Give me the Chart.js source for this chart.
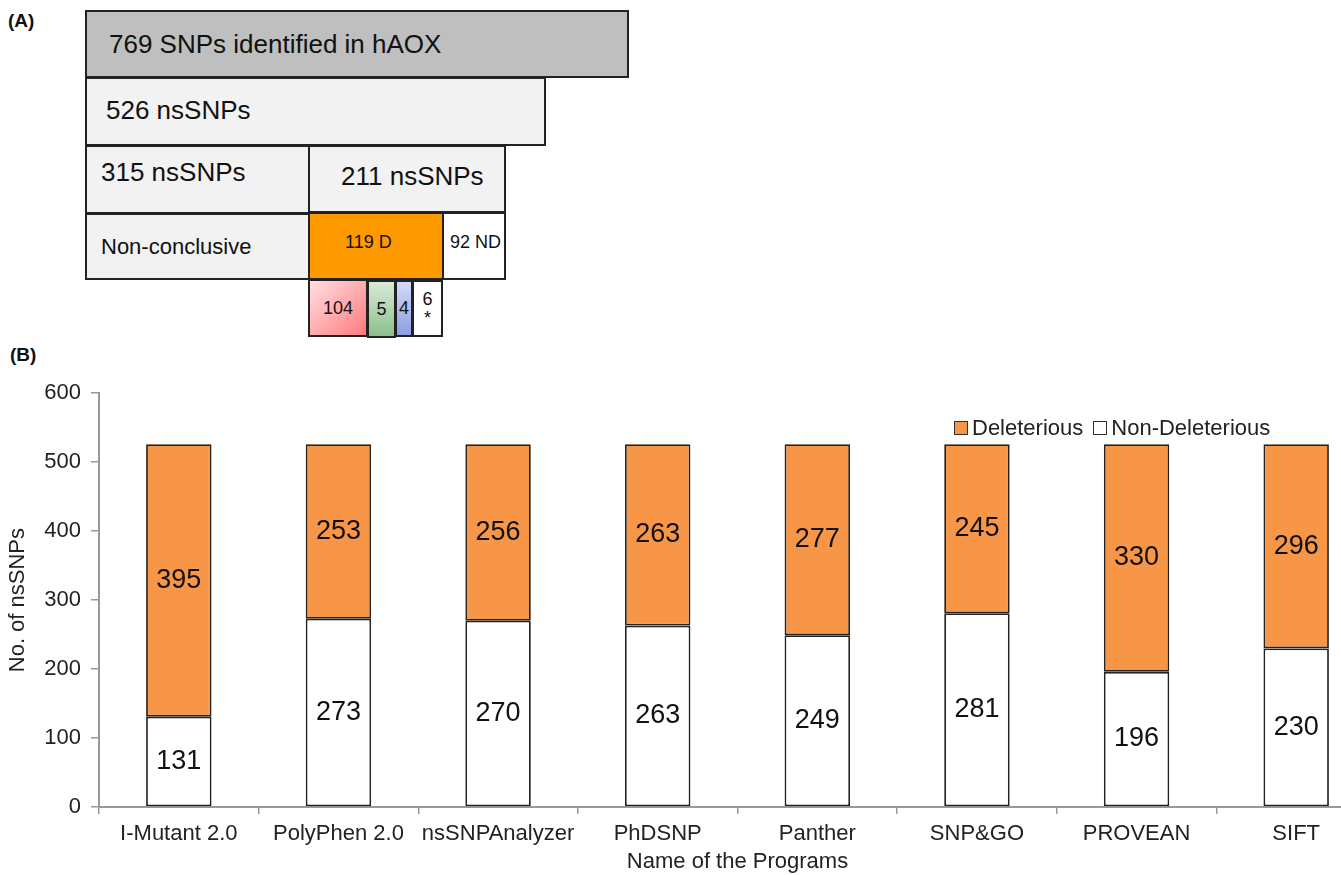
<!DOCTYPE html>
<html>
<head>
<meta charset="utf-8">
<script src="https://cdn.jsdelivr.net/npm/chart.js@4.4.0/dist/chart.umd.min.js"></script>
<style>
  html, body { margin: 0; padding: 0; background: #fff; overflow: hidden; }
  body { width: 1341px; height: 875px; position: relative; font-family: "Liberation Sans", Arial, sans-serif; color: #111; }
  .panel-tag { position: absolute; font-weight: bold; font-size: 19px; }
  .box { position: absolute; box-sizing: border-box; border: 2px solid #222; display: flex; align-items: center; white-space: nowrap; }
  #chartWrap { position: absolute; left: 0; top: 370px; width: 1380px; height: 505px; }
  #legend { position: absolute; top: 415px; left: 954px; font-size: 22px; display: flex; align-items: center; color: #222; }
  #legend .sw { display: inline-block; width: 12px; height: 12px; border: 1px solid #333; margin-right: 4px; }
</style>
</head>
<body>
<div class="panel-tag" style="left:8px;top:10px;">(A)</div>
<div class="panel-tag" style="left:10px;top:344px;">(B)</div>
<div id="flow"></div>
<div id="chartWrap"><canvas id="barChart"></canvas></div>
<div id="legend">
  <span class="sw" style="background:#F79646"></span><span>Deleterious</span>
  <span class="sw" style="background:#fff;margin-left:10px"></span><span>Non-Deleterious</span>
</div>

<script>
// --- DATA: panel (B) ---
const programs = ["I-Mutant 2.0", "PolyPhen 2.0", "nsSNPAnalyzer", "PhDSNP", "Panther", "SNP&GO", "PROVEAN", "SIFT"];
const nonDeleterious = [131, 273, 270, 263, 249, 281, 196, 230];
const deleterious = [395, 253, 256, 263, 277, 245, 330, 296];
const yTicks = [0, 100, 200, 300, 400, 500, 600];

// --- DATA: panel (A) flow boxes (text only) ---
const flowLabels = ["769 SNPs identified in hAOX", "526 nsSNPs", "315 nsSNPs", "211 nsSNPs",
  "Non-conclusive", "119 D", "92 ND", "104", "5", "4", "6<br>*"];

// layout for the flow boxes: left, top, width, height, font size, text offset, background
const flowLayout = [
  { l: 85,  t: 10,  w: 544, h: 68, fs: 26, px: 22, dy: 0,  bg: "#BFBFBF" },
  { l: 85,  t: 77,  w: 461, h: 69, fs: 26, px: 19, dy: -1, bg: "#F2F2F2" },
  { l: 85,  t: 145, w: 225, h: 69, fs: 26, px: 14, dy: -7, bg: "#F2F2F2" },
  { l: 308, t: 145, w: 198, h: 68, fs: 26, px: 31, dy: -3, bg: "#F2F2F2" },
  { l: 85,  t: 213, w: 225, h: 67, fs: 22, px: 14, dy: 0,  bg: "#F2F2F2" },
  { l: 308, t: 212, w: 136, h: 68, fs: 18, px: 35, dy: -4, bg: "#FF9900" },
  { l: 442, t: 212, w: 64,  h: 68, fs: 18, px: 6,  dy: -4, bg: "#FFFFFF" },
  { l: 308, t: 279, w: 60,  h: 58, fs: 18, c: true, dy: 0, bg: "linear-gradient(135deg,#FFE0E2,#FF7A7E)" },
  { l: 367, t: 280, w: 29,  h: 58, fs: 18, c: true, dy: 0, bg: "linear-gradient(180deg,#D8EBD6,#8CBF8C)" },
  { l: 395, t: 280, w: 18,  h: 57, fs: 18, c: true, dy: 0, bg: "linear-gradient(180deg,#D4DAF6,#8C9EE2)" },
  { l: 412, t: 280, w: 31,  h: 57, fs: 18, c: true, dy: 0, bg: "#FFFFFF", lh: 19 }
];

const flow = document.getElementById('flow');
flowLabels.forEach((txt, i) => {
  const b = flowLayout[i];
  const d = document.createElement('div');
  d.className = 'box';
  d.style.cssText = `left:${b.l}px;top:${b.t}px;width:${b.w}px;height:${b.h}px;background:${b.bg};font-size:${b.fs}px;` +
    (b.c ? 'justify-content:center;text-align:center;' : `padding-left:${b.px}px;`) +
    (b.lh ? `line-height:${b.lh}px;` : '');
  d.innerHTML = `<span style="position:relative;top:${b.dy}px">${txt}</span>`;
  flow.appendChild(d);
});

// --- value labels centred in each bar segment ---
const segmentLabels = {
  id: 'segmentLabels',
  afterDatasetsDraw(chart) {
    const ctx = chart.ctx;
    ctx.save();
    ctx.font = '27px "Liberation Sans", Arial, sans-serif';
    ctx.fillStyle = '#111';
    ctx.textAlign = 'center';
    ctx.textBaseline = 'middle';
    chart.data.datasets.forEach((ds, di) => {
      chart.getDatasetMeta(di).data.forEach((el, i) => {
        ctx.fillText(ds.data[i], el.x, (el.y + el.base) / 2);
      });
    });
    ctx.restore();
  }
};

const tickFont = { family: '"Liberation Sans", Arial, sans-serif', size: 22 };

new Chart(document.getElementById('barChart'), {
  type: 'bar',
  data: {
    labels: programs,
    datasets: [
      { label: 'Non-Deleterious', data: nonDeleterious, backgroundColor: '#FFFFFF', borderColor: '#222', borderWidth: 1.8, borderSkipped: false },
      { label: 'Deleterious', data: deleterious, backgroundColor: '#F79646', borderColor: '#222', borderWidth: 1.8, borderSkipped: false }
    ]
  },
  options: {
    responsive: true,
    maintainAspectRatio: false,
    animation: false,
    layout: { padding: { top: 21, right: 4, left: 0, bottom: 0 } },
    datasets: { bar: { categoryPercentage: 1, barPercentage: 0.41 } },
    plugins: { legend: { display: false }, tooltip: { enabled: false } },
    scales: {
      x: {
        stacked: true,
        grid: { drawOnChartArea: false, color: '#999', lineWidth: 1.5, tickLength: 7 },
        border: { color: '#999', width: 2 },
        ticks: { color: '#222', font: tickFont, padding: 7, maxRotation: 0, autoSkip: false },
        title: { display: true, text: 'Name of the Programs', color: '#222', font: tickFont, padding: { top: 0, bottom: 0 } },
        afterFit(scale) { scale.height = 68; }
      },
      y: {
        stacked: true,
        min: 0,
        max: 600,
        afterBuildTicks(scale) { scale.ticks = yTicks.map(v => ({ value: v })); },
        grid: { drawOnChartArea: false, color: '#999', lineWidth: 1.5, tickLength: 8 },
        border: { color: '#999', width: 2 },
        ticks: { color: '#222', font: tickFont, padding: 10 },
        title: { display: true, text: 'No. of nsSNPs', color: '#222', font: tickFont, padding: { top: 5, bottom: 0 } },
        afterFit(scale) { scale.width = 99; }
      }
    }
  },
  plugins: [segmentLabels]
});
</script>
</body>
</html>
